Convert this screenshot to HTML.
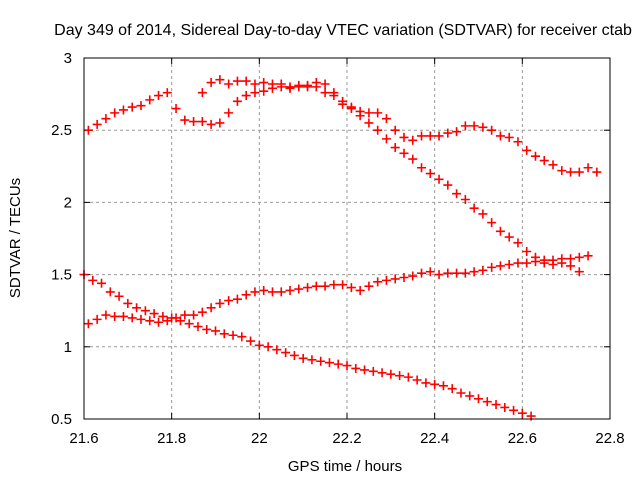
<!DOCTYPE html>
<html><head><meta charset="utf-8"><style>
body{margin:0;background:#fff}
svg{display:block;font-family:"Liberation Sans",sans-serif}
</style></head><body>
<svg id="chart" width="640" height="480">
<text x="343" y="35" font-size="16" text-anchor="middle">Day 349 of 2014, Sidereal Day-to-day VTEC variation (SDTVAR) for receiver ctab</text>
<text x="345" y="471" font-size="15" text-anchor="middle">GPS time / hours</text>
<text transform="translate(20,238) rotate(-90)" font-size="15" text-anchor="middle">SDTVAR / TECUs</text>
<g id="grid"></g><g id="marks"></g>
<rect x="84" y="58" width="526" height="361" fill="none" stroke="#000" stroke-width="1"/>
</svg>
<script>
const xTicks=[21.6,21.8,22,22.2,22.4,22.6,22.8];
const xTickLabels=["21.6","21.8","22","22.2","22.4","22.6","22.8"];
const yTicks=[0.5,1,1.5,2,2.5,3];
const yTickLabels=["0.5","1","1.5","2","2.5","3"];
const s1Start=21.61;
const s1=[2.50,2.54,2.58,2.62,2.64,2.66,2.67,2.71,2.74,2.76,2.65,2.57,2.56,2.56,2.54,2.55,2.62,2.70,2.74,2.76,2.77,2.79,2.80,2.79,2.80,2.81,2.80,2.76,2.74,2.68,2.65,2.63,2.62,2.62,2.58,2.50,2.45,2.43,2.46,2.46,2.46,2.48,2.49,2.53,2.53,2.52,2.50,2.46,2.45,2.42,2.36,2.32,2.29,2.26,2.22,2.21,2.21,2.24,2.21];
const s2Start=21.87;
const s2=[2.76,2.83,2.85,2.82,2.84,2.84,2.82,2.83,2.82,2.82,2.80,2.81,2.80,2.83,2.82,2.76,2.70,2.66,2.60,2.55,2.50,2.44,2.38,2.34,2.30,2.24,2.20,2.16,2.12,2.06,2.02,1.96,1.92,1.86,1.80,1.76,1.72,1.66,1.62,1.58,1.57,1.58,1.56,1.52];
const s3Start=21.60;
const s3=[1.50,1.46,1.44,1.38,1.35,1.30,1.27,1.25,1.23,1.21,1.20,1.18,1.16,1.14,1.12,1.11,1.09,1.08,1.07,1.04,1.01,1.00,0.98,0.96,0.94,0.92,0.91,0.90,0.89,0.88,0.87,0.85,0.84,0.83,0.82,0.81,0.80,0.79,0.77,0.75,0.74,0.73,0.71,0.68,0.66,0.64,0.62,0.60,0.58,0.56,0.54,0.52];
const s4Start=21.61;
const s4=[1.16,1.19,1.22,1.21,1.21,1.20,1.19,1.18,1.17,1.18,1.20,1.22,1.22,1.24,1.27,1.30,1.32,1.33,1.36,1.38,1.39,1.38,1.38,1.39,1.40,1.41,1.42,1.42,1.43,1.43,1.41,1.39,1.42,1.45,1.46,1.47,1.48,1.49,1.51,1.52,1.50,1.51,1.51,1.51,1.52,1.53,1.55,1.56,1.57,1.58,1.58,1.59,1.60,1.60,1.61,1.61,1.62,1.63];
const step=0.02;
const NS="http://www.w3.org/2000/svg";
const X0=84,X1=610,Y0=419,Y1=58;
function sx(v){return X0+(v-21.6)/(22.8-21.6)*(X1-X0);}
function sy(v){return Y0-(v-0.5)/(3-0.5)*(Y0-Y1);}
const grid=document.getElementById('grid'),marks=document.getElementById('marks');
function mk(tag,attrs,parent){const e=document.createElementNS(NS,tag);for(const k in attrs)e.setAttribute(k,attrs[k]);parent.appendChild(e);return e;}
xTicks.forEach((t,i)=>{const x=sx(t);
 if(i>0&&i<xTicks.length-1){const g=mk('line',{x1:x,x2:x,y1:Y1,y2:Y0,stroke:'#999','stroke-dasharray':'3,3'},grid);
 
 }
 mk('line',{x1:x,x2:x,y1:Y0,y2:Y0-6,stroke:'#000'},grid);mk('line',{x1:x,x2:x,y1:Y1,y2:Y1+6,stroke:'#000'},grid);
 const tl=mk('text',{x:x,y:Y0+24,'font-size':15,'text-anchor':'middle'},grid);tl.textContent=xTickLabels[i];
 
 });
yTicks.forEach((t,i)=>{const y=sy(t);
 if(i>0&&i<yTicks.length-1){const g=mk('line',{x1:X0,x2:X1,y1:y,y2:y,stroke:'#999','stroke-dasharray':'3,3'},grid);
 
 }
 mk('line',{x1:X0,x2:X0+6,y1:y,y2:y,stroke:'#000'},grid);mk('line',{x1:X1,x2:X1-6,y1:y,y2:y,stroke:'#000'},grid);
 const tl=mk('text',{x:X0-12,y:y+5,'font-size':15,'text-anchor':'end'},grid);tl.textContent=yTickLabels[i];
 
 });
function plot(arr,start,name){arr.forEach((v,i)=>{const x=sx(start+i*step),y=sy(v);
 const p=mk('path',{d:`M${x-4.5},${y}H${x+4.5}M${x},${y-4.5}V${y+4.5}`,stroke:'#f00','stroke-width':1.6,fill:'none'},marks);
 
 });}
plot(s1,s1Start,'series-1-point');plot(s2,s2Start,'series-2-point');plot(s3,s3Start,'series-3-point');plot(s4,s4Start,'series-4-point');
</script>
</body></html>
